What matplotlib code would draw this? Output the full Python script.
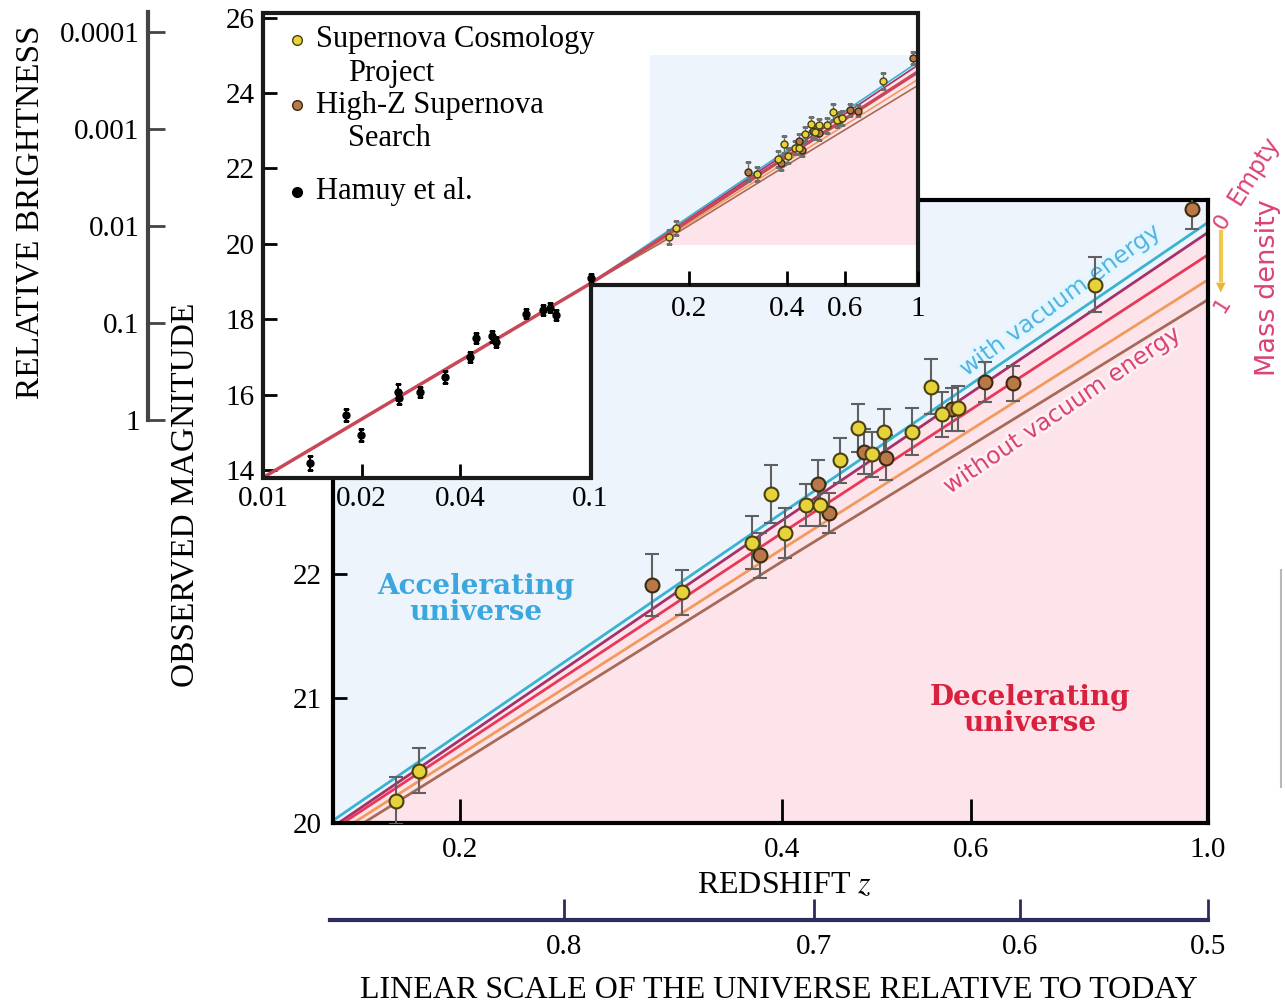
import numpy as np
import matplotlib.pyplot as plt
from matplotlib.patches import Polygon
from matplotlib.ticker import NullLocator
import matplotlib.patheffects as pe

W, H = 1285, 1005
plt.rcParams['font.family'] = ['Liberation Serif', 'DejaVu Serif']
plt.rcParams['mathtext.fontset'] = 'stix'

# Supernova Cosmology Project (redshift, magnitude, error)
scp_z = [0.174, 0.183, 0.322, 0.375, 0.390, 0.402, 0.421, 0.434, 0.453, 0.471,
         0.485, 0.498, 0.529, 0.551, 0.564, 0.584, 0.784]
scp_m = [20.18, 20.42, 21.85, 22.25, 22.64, 22.33, 22.55, 22.55, 22.91, 23.17,
         22.96, 23.14, 23.14, 23.50, 23.28, 23.33, 24.32]
scp_err = [0.19, 0.18, 0.18, 0.21, 0.23, 0.20, 0.17, 0.17, 0.18, 0.19,
           0.18, 0.18, 0.19, 0.22, 0.18, 0.18, 0.22]

# High-Z Supernova Search
hz_z = [0.302, 0.381, 0.432, 0.442, 0.477, 0.500, 0.576, 0.619, 0.657, 0.966]
hz_m = [21.91, 22.15, 22.72, 22.49, 22.98, 22.93, 23.32, 23.54, 23.53, 24.93]
hz_err = [0.25, 0.18, 0.19, 0.16, 0.18, 0.18, 0.17, 0.16, 0.14, 0.16]

# Hamuy et al. (nearby)
hamuy_z = [0.0139, 0.0179, 0.0199, 0.0258, 0.0261, 0.0301, 0.0360, 0.0429,
           0.0447, 0.0500, 0.0514, 0.0635, 0.0716, 0.0752, 0.0785, 0.1004]
hamuy_m = [14.19, 15.46, 14.93, 16.07, 15.91, 16.07, 16.47, 17.00,
           17.50, 17.55, 17.40, 18.14, 18.24, 18.30, 18.11, 19.09]
hamuy_err = [0.18, 0.15, 0.16, 0.22, 0.15, 0.14, 0.15, 0.14,
             0.14, 0.15, 0.14, 0.12, 0.14, 0.12, 0.14, 0.12]

# model curves
cyan_z, cyan_m = [0.152, 0.40, 1.0], [20.02, 22.49, 24.82]
empty_z, empty_m = [0.1538, 0.40, 1.0], [20.0, 22.43, 24.74]
red_z, red_m = [0.1553, 0.40, 1.0], [20.0, 22.33, 24.56]
orange_z, orange_m = [0.1588, 0.40, 1.0], [20.0, 22.20, 24.36]
brown_z, brown_m = [0.1623, 0.40, 1.0], [20.0, 22.10, 24.20]
low_z, low_m = [0.01, 0.1], [13.8, 18.95]

curves = [(cyan_z, cyan_m, '#3ab2d2'), (empty_z, empty_m, '#a8306a'),
          (red_z, red_m, '#e8385a'), (orange_z, orange_m, '#f29a5c'),
          (brown_z, brown_m, '#a86a58')]

bright_ticks = [1e-4, 1e-3, 1e-2, 0.1, 1]
bright_labels = ['0.0001', '0.001', '0.01', '0.1', '1']
scale_vals = [0.8, 0.7, 0.6, 0.5]

blue = '#edf4fb'
pink = '#fde4ea'
yel = '#e6d23a'
brn = '#b87848'
crimson = '#d94473'

fig = plt.figure(figsize=(W / 100, H / 100), dpi=100)


def fpos(x, y):
    return x / W, 1 - y / H


# relative brightness scale
ax_b = fig.add_axes([148 / W, 1 - 420 / H, 0.001, 408 / H])
ax_b.set_yscale('log')
ax_b.set_ylim(1, 10 ** -4.206)
ax_b.set_yticks(bright_ticks)
ax_b.set_yticklabels(bright_labels)
ax_b.yaxis.set_minor_locator(NullLocator())
ax_b.set_xticks([])
for s in ['top', 'right', 'bottom']:
    ax_b.spines[s].set_visible(False)
ax_b.spines['left'].set_linewidth(3)
ax_b.spines['left'].set_color('#444444')
ax_b.tick_params(axis='y', direction='in', length=12, width=2, color='#444444',
                 labelsize=21, pad=6)
ax_b.patch.set_visible(False)

# main panel
ax = fig.add_axes([333 / W, 1 - 823 / H, 875 / W, 623 / H])
ax.set_xscale('log')
ax.set_xlim(0.152, 1.0)
ax.set_ylim(20, 25)
ax.set_facecolor(blue)
ax.fill_between(empty_z, 19, empty_m, color=pink, lw=0, zorder=0)
for cz, cm, c in curves:
    ax.plot(cz, cm, color=c, lw=2, zorder=2)
ax.errorbar(hz_z, hz_m, yerr=hz_err, fmt='o', ms=10, mfc=brn, mec='#3a2a10',
            mew=1.5, ecolor='#606060', elinewidth=1.5, capsize=5, zorder=3)
ax.errorbar(scp_z, scp_m, yerr=scp_err, fmt='o', ms=10, mfc=yel, mec='#4a4010',
            mew=1.5, ecolor='#606060', elinewidth=1.5, capsize=5, zorder=3)
ax.set_xticks([0.2, 0.4, 0.6, 1.0])
ax.set_xticklabels(['0.2', '0.4', '0.6', '1.0'])
ax.xaxis.set_minor_locator(NullLocator())
# upper magnitudes sit behind the inset
ax.set_yticks([20, 21, 22])
ax.set_yticklabels(['20', '21', '22'])
ax.tick_params(axis='x', direction='in', length=17, width=2, labelsize=21, pad=10)
ax.tick_params(axis='y', direction='in', length=10, width=2, labelsize=21, pad=8)
for s in ax.spines.values():
    s.set_linewidth(3)
ax.set_xlabel('REDSHIFT $z$', fontsize=23)
ax.xaxis.set_label_coords(0.516, -0.078)
ax.set_ylabel('OBSERVED MAGNITUDE', fontsize=24)
ax.yaxis.set_label_coords(-0.152, 0.527)

ax.text(0.163, 0.358, 'Accelerating\nuniverse', transform=ax.transAxes,
        ha='center', va='center', fontsize=20, fontweight='bold',
        family='DejaVu Serif', color='#3aa8de', linespacing=0.95)
ax.text(0.797, 0.181, 'Decelerating\nuniverse', transform=ax.transAxes,
        ha='center', va='center', fontsize=20, fontweight='bold',
        family='DejaVu Serif', color='#d8203f', linespacing=0.95)
ax.text((1060 - 333) / 875, (823 - 300) / 623, 'with vacuum energy',
        transform=ax.transAxes, rotation=36, ha='center', va='center',
        fontsize=17, family='DejaVu Sans', color='#55b4e2', zorder=2.5,
        path_effects=[pe.withStroke(linewidth=4, foreground='#e2f6ff')])
ax.text((1062 - 333) / 875, (823 - 410) / 623, 'without vacuum energy',
        transform=ax.transAxes, rotation=34, ha='center', va='center',
        fontsize=17, family='DejaVu Sans', color=crimson, zorder=2.5,
        path_effects=[pe.withStroke(linewidth=4, foreground='#fff0f4')])

# scale factor axis
ax_a = fig.add_axes([330 / W, 1 - 920 / H, 878 / W, 0.001])
ax_a.set_xscale('log')
ax_a.set_xlim(0.151, 1.0)
ax_a.set_xticks([1 / a - 1 for a in scale_vals])
ax_a.set_xticklabels([str(a) for a in scale_vals])
ax_a.xaxis.set_minor_locator(NullLocator())
ax_a.set_yticks([])
for s in ['top', 'right', 'left']:
    ax_a.spines[s].set_visible(False)
ax_a.spines['bottom'].set_linewidth(3)
ax_a.spines['bottom'].set_color('#2c2c5c')
ax_a.tick_params(axis='x', direction='in', length=15, width=2, color='#2c2c5c',
                 labelsize=21, pad=10)
ax_a.patch.set_visible(False)

# inset
ax_in = fig.add_axes([263 / W, 1 - 478 / H, 655 / W, 465 / H])
ax_in.set_xscale('log')
ax_in.set_xlim(0.01, 1.0)
ax_in.set_ylim(13.79, 26.12)
ax_in.patch.set_visible(False)
for s in ax_in.spines.values():
    s.set_visible(False)
y0, y1 = ax_in.get_ylim()
outline = [(0.01, y0), (0.1, y0), (0.1, 18.9), (1.0, 18.9), (1.0, y1), (0.01, y1)]
bg = Polygon(outline, closed=True, transform=ax_in.transData, facecolor='white',
             edgecolor='none', zorder=0)
ax_in.add_patch(bg)
ax_in.add_patch(Polygon(outline, closed=True, transform=ax_in.transData, fill=False,
                        edgecolor='#1a1a1a', lw=3, zorder=6, clip_on=False))

ax_in.fill_between([0.152, 1.0], 20, 25, color=blue, lw=0, zorder=1)
ax_in.fill_between(empty_z, 20, empty_m, color=pink, lw=0, zorder=1)
for cz, cm, c in curves:
    ax_in.plot(low_z + cz, low_m + cm, color=c, lw=1.2, zorder=2)
ax_in.plot(low_z + red_z, low_m + red_m, color='#c84858', lw=2.5, zorder=2)
ax_in.errorbar(hamuy_z, hamuy_m, yerr=hamuy_err, fmt='o', ms=5, color='black',
               elinewidth=1.5, capsize=2, zorder=3)
ax_in.errorbar(hz_z, hz_m, yerr=hz_err, fmt='o', ms=5, mfc=brn, mec='#3a2a10',
               mew=1, ecolor='#707070', elinewidth=1, capsize=2, zorder=3)
ax_in.errorbar(scp_z, scp_m, yerr=scp_err, fmt='o', ms=5, mfc=yel, mec='#4a4010',
               mew=1, ecolor='#707070', elinewidth=1, capsize=2, zorder=3)
for art in ax_in.lines + ax_in.collections:
    art.set_clip_path(bg)

ax_in.set_xticks([0.01, 0.02, 0.04, 0.1])
ax_in.set_xticklabels(['0.01', '0.02', '0.04', '0.1'])
ax_in.xaxis.set_minor_locator(NullLocator())
ax_in.set_yticks([14, 16, 18, 20, 22, 24, 26])
ax_in.set_yticklabels(['14', '16', '18', '20', '22', '24', '26'])
ax_in.tick_params(axis='both', direction='in', length=10, width=2, labelsize=21,
                  pad=6)

# legend keys and labels
leg = [(40, yel, '#4a4010', 'Supernova Cosmology', 'Project'),
       (105, brn, '#3a2a10', 'High-Z Supernova', 'Search'),
       (192, 'black', 'black', 'Hamuy et al.', None)]
for py, fc, ec, l1, l2 in leg:
    fig.text(*fpos(316, py), l1, fontsize=22, va='center', ha='left')
    if l2:
        fig.text(*fpos(348, py + 33), l2, fontsize=22, va='center', ha='left')
    fig.add_artist(plt.Line2D([297 / W], [1 - py / H], marker='o', ms=7,
                              mfc=fc, mec=ec, ls='none'))

# upper-right bottom axis of the inset
ax_s = fig.add_axes([590 / W, 1 - 285 / H, 328 / W, 0.001])
ax_s.set_xscale('log')
ax_s.set_xlim(0.1, 1.0)
ax_s.set_xticks([0.2, 0.4, 0.6, 1.0])
ax_s.set_xticklabels(['0.2', '0.4', '0.6', '1'])
ax_s.xaxis.set_minor_locator(NullLocator())
ax_s.set_yticks([])
for s in ax_s.spines.values():
    s.set_visible(False)
ax_s.patch.set_visible(False)
ax_s.tick_params(axis='x', direction='in', length=10, width=2, labelsize=21, pad=8)

# labels around the figure
fig.text(*fpos(30, 212), 'RELATIVE BRIGHTNESS', rotation=90, ha='center',
         va='center', fontsize=24)
fig.text(*fpos(779, 990), 'LINEAR SCALE OF THE UNIVERSE RELATIVE TO TODAY',
         ha='center', va='center', fontsize=23)

sans = 'DejaVu Sans'
fig.text(*fpos(1268, 288), 'Mass density', rotation=90, ha='center', va='center',
         fontsize=19.5, family=sans, color=crimson)
fig.text(*fpos(1254, 170), 'Empty', rotation=58, ha='center', va='center',
         fontsize=17, family=sans, color=crimson)
fig.text(*fpos(1222, 222), '0', rotation=58, ha='center', va='center',
         fontsize=16, family=sans, color=crimson)
fig.text(*fpos(1222, 305), '1', rotation=58, ha='center', va='center',
         fontsize=16, family=sans, color=crimson)
fig.add_artist(plt.Line2D([1221 / W, 1221 / W], [1 - 232 / H, 1 - 280 / H],
                          color='#f2c94c', lw=3))
fig.text(*fpos(1221, 287), '\u25bc', ha='center', va='center', fontsize=9,
         family=sans, color='#e8b830')

fig.add_artist(plt.Line2D([1281 / W, 1281 / W], [1 - 570 / H, 1 - 787 / H],
                          color='#b8b8b8', lw=1.5))

fig.savefig('out.png', dpi=100)
